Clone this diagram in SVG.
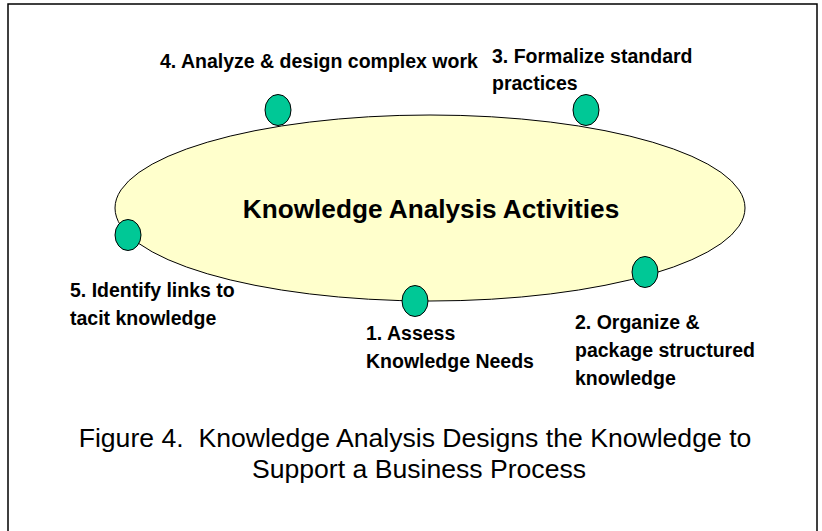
<svg xmlns="http://www.w3.org/2000/svg" width="822" height="531" viewBox="0 0 822 531">
<style>
.lbl{font-family:"Liberation Sans",Arial,sans-serif;font-weight:bold;font-size:19.5px;fill:#000}
.cap{font-family:"Liberation Sans",Arial,sans-serif;font-size:26.6px;fill:#000}
.dot{fill:#00C896;stroke:#000;stroke-width:1}
</style>
<rect x="0" y="0" width="822" height="531" fill="#fff"/>
<rect x="8" y="4" width="809" height="540" fill="none" stroke="#000" stroke-width="1.5"/>
<g id="ellipse-main">
<ellipse cx="430" cy="208" rx="315" ry="93" fill="#FFFFCC" stroke="#000" stroke-width="1"/>
<text x="431" y="218" text-anchor="middle" style="font-family:'Liberation Sans',Arial,sans-serif;font-weight:bold;font-size:26.2px">Knowledge Analysis Activities</text>
</g>
<g id="node4">
<ellipse class="dot" cx="278" cy="110" rx="13" ry="15.5"/>
<text class="lbl" x="160" y="68">4. Analyze &amp; design complex work</text>
</g>
<g id="node3">
<ellipse class="dot" cx="586" cy="110" rx="13" ry="15.5"/>
<text class="lbl" x="492" y="63">3. Formalize standard</text>
<text class="lbl" x="492" y="90">practices</text>
</g>
<g id="node5">
<ellipse class="dot" cx="128" cy="235" rx="13" ry="15.5"/>
<text class="lbl" x="70" y="297">5. Identify links to</text>
<text class="lbl" x="70" y="325">tacit knowledge</text>
</g>
<g id="node1">
<ellipse class="dot" cx="415" cy="301" rx="13" ry="15.5"/>
<text class="lbl" x="366" y="340">1. Assess</text>
<text class="lbl" x="366" y="368">Knowledge Needs</text>
</g>
<g id="node2">
<ellipse class="dot" cx="645" cy="272" rx="13" ry="15.5"/>
<text class="lbl" x="575" y="329">2. Organize &amp;</text>
<text class="lbl" x="575" y="357">package structured</text>
<text class="lbl" x="575" y="385">knowledge</text>
</g>
<g id="connectors"></g>
<g id="caption">
<text class="cap" x="415" y="447" text-anchor="middle" xml:space="preserve">Figure 4.  Knowledge Analysis Designs the Knowledge to</text>
<text class="cap" x="419" y="478" text-anchor="middle">Support a Business Process</text>
</g>
</svg>
